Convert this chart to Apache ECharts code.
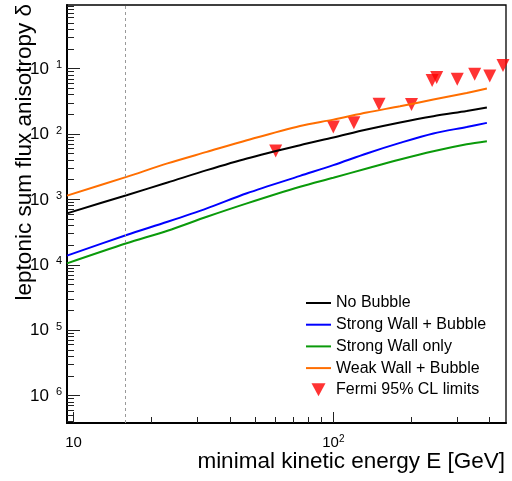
<!DOCTYPE html>
<html>
<head>
<meta charset="utf-8">
<script src="https://cdn.jsdelivr.net/npm/echarts@6/dist/echarts.min.js"></script>
<style>
  html, body { margin: 0; padding: 0; background: #fff; }
  #chart { width: 512px; height: 481px; }
</style>
</head>
<body>
<div id="chart"></div>
<script>
var energies = [9.44, 16, 23, 32.6, 46.5, 74.5, 100, 134.5, 180.6, 242.7, 326, 390];
var noBubble = [6.11e-4, 1.16e-3, 1.81e-3, 2.80e-3, 4.23e-3, 6.75e-3, 8.84e-3, 1.17e-2, 1.50e-2, 1.87e-2, 2.25e-2, 2.54e-2];
var strongBubble = [1.38e-4, 2.85e-4, 4.55e-4, 7.29e-4, 1.24e-3, 2.29e-3, 3.34e-3, 5.04e-3, 7.31e-3, 1.02e-2, 1.28e-2, 1.48e-2];
var strongOnly = [1.05e-4, 2.13e-4, 3.32e-4, 5.42e-4, 8.69e-4, 1.56e-3, 2.14e-3, 2.97e-3, 4.08e-3, 5.46e-3, 6.98e-3, 7.76e-3];
var weakBubble = [1.14e-3, 2.21e-3, 3.55e-3, 5.33e-3, 8.04e-3, 1.33e-2, 1.66e-2, 2.13e-2, 2.66e-2, 3.36e-2, 4.24e-2, 4.96e-2];

// Fermi 95% CL upper limits
var fermiE = [60, 100, 120, 150, 200, 240, 250, 300, 350, 400, 450];
var fermiLim = [5.5e-3, 1.28e-2, 1.48e-2, 2.85e-2, 2.82e-2, 6.6e-2, 7.3e-2, 6.9e-2, 8.2e-2, 7.7e-2, 0.112];

// axis ranges and ticks
var xMin = 9.44, xMax = 462;
var yMin = 3.8e-7, yMax = 0.94;
var xMajor = [10, 100];
var xMinor = [20, 30, 40, 50, 60, 70, 80, 90, 200, 300, 400];
var yMajor = [1e-6, 1e-5, 1e-4, 1e-3, 1e-2, 1e-1];
var yMinor = [];
[-7, -6, -5, -4, -3, -2, -1].forEach(function (d) {
    for (var k = 2; k <= 9; k++) yMinor.push(k * Math.pow(10, d));
});
var cutE = 16; // dashed vertical line

var lg = Math.log10;
var font = 'Liberation Sans, Arial, Helvetica, sans-serif';

function pts(xs, ys) {
    return xs.map(function (x, i) { return [lg(x), lg(ys[i])]; });
}

function lineSeries(name, vals, color) {
    return {
        name: name,
        type: 'line',
        data: pts(energies, vals),
        symbol: 'none',
        smooth: 0.3,
        lineStyle: { color: color, width: 2 },
        itemStyle: { color: color }
    };
}

// legend entries for lines: hide the default circle in the icon
function lineLegend(name) {
    return { name: name, itemStyle: { opacity: 0 } };
}

var chart = echarts.init(document.getElementById('chart'));

var tickStyle = { color: '#222', width: 1 };

var option = {
    animation: false,
    grid: {
        left: 67, right: 6, top: 5, bottom: 58,
        show: true, borderColor: '#000', borderWidth: 1.3, backgroundColor: 'transparent'
    },
    xAxis: [{
        type: 'value', position: 'bottom', min: lg(xMin), max: lg(xMax),
        axisLine: { show: true, lineStyle: { color: '#000', width: 2 } },
        splitLine: { show: false },
        axisTick: { show: true, inside: true, length: 11, customValues: xMajor.map(lg), lineStyle: tickStyle },
        axisLabel: {
            customValues: xMajor.map(lg), margin: 11, color: '#000', fontFamily: font, fontSize: 15,
            formatter: function (v) {
                var k = Math.round(v);
                return k === 1 ? '{b|10}' : '{b|10}{s|' + k + '}';
            },
            rich: {
                b: { fontSize: 15, fontFamily: font, color: '#000', lineHeight: 16, verticalAlign: 'bottom' },
                s: { fontSize: 10, fontFamily: font, color: '#000', lineHeight: 16, verticalAlign: 'top' }
            }
        }
    }, {
        type: 'value', position: 'bottom', min: lg(xMin), max: lg(xMax),
        axisLine: { show: false }, splitLine: { show: false },
        axisTick: { show: true, inside: true, length: 6, customValues: xMinor.map(lg), lineStyle: tickStyle },
        axisLabel: { show: false }
    }],
    yAxis: [{
        type: 'value', position: 'left', min: lg(yMin), max: lg(yMax),
        axisLine: { show: true, lineStyle: { color: '#000', width: 2 } },
        splitLine: { show: false },
        axisTick: { show: true, inside: true, length: 13, customValues: yMajor.map(lg), lineStyle: tickStyle },
        axisLabel: {
            customValues: yMajor.map(lg), margin: 5, color: '#000', fontFamily: font,
            formatter: function (v) {
                var k = Math.round(v);
                return '{b|10}{s|' + Math.abs(k) + '}';
            },
            rich: {
                b: { fontSize: 17, fontFamily: font, color: '#000', lineHeight: 18, verticalAlign: 'bottom' },
                s: { fontSize: 11, fontFamily: font, color: '#000', lineHeight: 18, verticalAlign: 'top', padding: [0, 0, 0, 7] }
            }
        }
    }, {
        type: 'value', position: 'left', min: lg(yMin), max: lg(yMax),
        axisLine: { show: false }, splitLine: { show: false },
        axisTick: { show: true, inside: true, length: 7, customValues: yMinor.map(lg), lineStyle: tickStyle },
        axisLabel: { show: false }
    }],
    legend: {
        orient: 'vertical', left: 305, top: 295, padding: 0,
        itemWidth: 25, itemHeight: 13, itemGap: 5.7,
        symbolKeepAspect: true,
        textStyle: { fontSize: 16, fontFamily: font, color: '#000' },
        data: [
            lineLegend('No Bubble'),
            lineLegend('Strong Wall + Bubble'),
            lineLegend('Strong Wall only'),
            lineLegend('Weak Wall + Bubble'),
            { name: 'Fermi 95% CL limits', icon: 'path://M0,0L14,0L7,13Z' }
        ]
    },
    graphic: [{
        type: 'text', x: 505, y: 462,
        style: { text: 'minimal kinetic energy E [GeV]', font: '22.5px ' + font, fill: '#000', textAlign: 'right', textVerticalAlign: 'middle' }
    }, {
        type: 'text', x: 25, y: 4, rotation: Math.PI / 2,
        style: { text: 'leptonic sum flux anisotropy δ', font: '22.5px ' + font, fill: '#000', textAlign: 'right', textVerticalAlign: 'middle' }
    }],
    series: [
        lineSeries('No Bubble', noBubble, '#000000'),
        lineSeries('Strong Wall + Bubble', strongBubble, '#0000ff'),
        lineSeries('Strong Wall only', strongOnly, '#0a9a0a'),
        lineSeries('Weak Wall + Bubble', weakBubble, '#ff6e00'),
        {
            name: 'Fermi 95% CL limits',
            type: 'scatter',
            data: pts(fermiE, fermiLim),
            symbol: 'triangle', symbolRotate: 180, symbolSize: 13,
            itemStyle: { color: '#ff0000' },
            clip: false,
            markLine: {
                silent: true, symbol: 'none', label: { show: false },
                lineStyle: { color: '#999', type: [3, 3], width: 1 },
                data: [{ xAxis: lg(cutE) }]
            }
        }
    ]
};

chart.setOption(option);
</script>
</body>
</html>
